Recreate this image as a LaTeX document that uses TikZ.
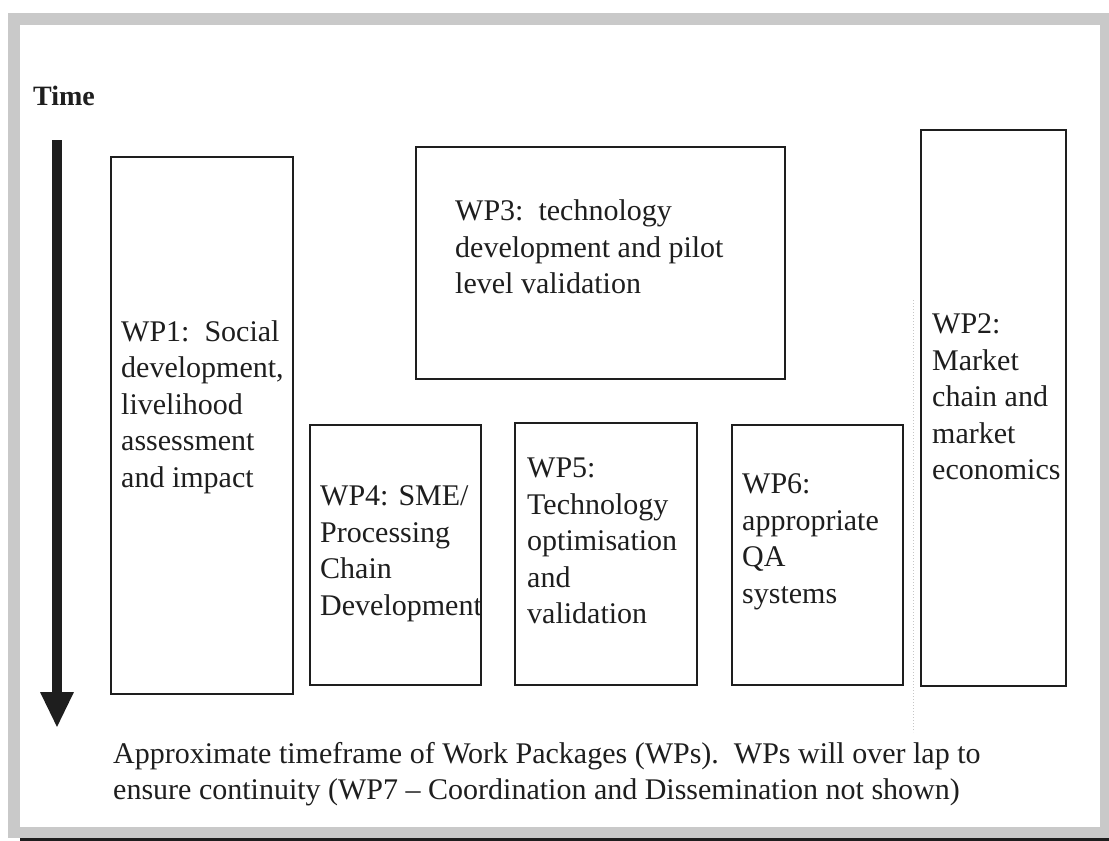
\documentclass[tikz,border=0pt]{standalone}
\usepackage{fontspec}
\setmainfont{Liberation Serif}
\usetikzlibrary{arrows.meta}
\definecolor{ink}{HTML}{1E1E1E}
\definecolor{framegrey}{HTML}{C9C9C9}
\begin{document}
\begin{tikzpicture}[x=1pt,y=-1pt,
  wpbox/.style={draw=ink, line width=1.5pt, fill=white, inner sep=0pt},
  wpboxthick/.style={wpbox, line width=2.6pt},
  wptext/.style={anchor=west, align=left, inner sep=0pt, text=ink,
    font=\fontsize{30}{36.5}\selectfont},
  timearrow/.style={draw=ink, line width=10pt, -{Triangle[width=31pt,length=36pt]}}
]
\useasboundingbox (0,0) rectangle (1109,841);
% frame
\fill[framegrey] (8,13) rectangle (1109,838);
\fill[white] (20,25) rectangle (1100,827);
\fill[ink] (20,838) rectangle (1109,841);

% Time label and arrow
\node[wptext, font=\fontsize{28}{32}\selectfont\bfseries] (time) at (33,96) {Time};
\coordinate (astart) at (57,140);
\coordinate (aend) at (57,728);
\draw[timearrow] (astart) -- (aend);

% faint dotted guide
\coordinate (dtop) at (913,300);
\coordinate (dbot) at (913,732);
\draw[gray!45, line width=1pt, dotted] (dtop) -- (dbot);

% boxes (centre, size)
\node[wpbox, minimum width=182pt, minimum height=537pt] (wp1) at (202,425.5) {};
\node[wpboxthick, minimum width=369pt, minimum height=232pt] (wp3) at (600.5,263) {};
\node[wpbox, minimum width=145pt, minimum height=556pt] (wp2) at (993.5,408) {};
\node[wpbox, minimum width=171pt, minimum height=260pt] (wp4) at (395.5,555) {};
\node[wpboxthick, minimum width=182pt, minimum height=262pt] (wp5) at (606,554) {};
\node[wpbox, minimum width=171pt, minimum height=260pt] (wp6) at (817.5,555) {};

% texts
\node[wptext] (t1) at (121,407) {WP1:\ \ Social\\development,\\livelihood\\assessment\\and impact};
\node[wptext] (t3) at (455,247) {WP3:\ \ technology\\development and pilot\\level validation};
\node[wptext] (t2) at (932,397) {WP2:\\Market\\chain and\\market\\economics};
\node[wptext] (t4) at (320,554) {WP4: SME/\\Processing\\Chain\\Development};
\node[wptext] (t5) at (527,541) {WP5:\\Technology\\optimisation\\and\\validation};
\node[wptext] (t6) at (742,542) {WP6:\\appropriate\\QA\\systems};
\node[wptext] (note) at (113,774) {Approximate timeframe of Work Packages (WPs).\ \ WPs will over lap to\\ensure continuity (WP7 -- Coordination and Dissemination not shown)};
\end{tikzpicture}
\end{document}
